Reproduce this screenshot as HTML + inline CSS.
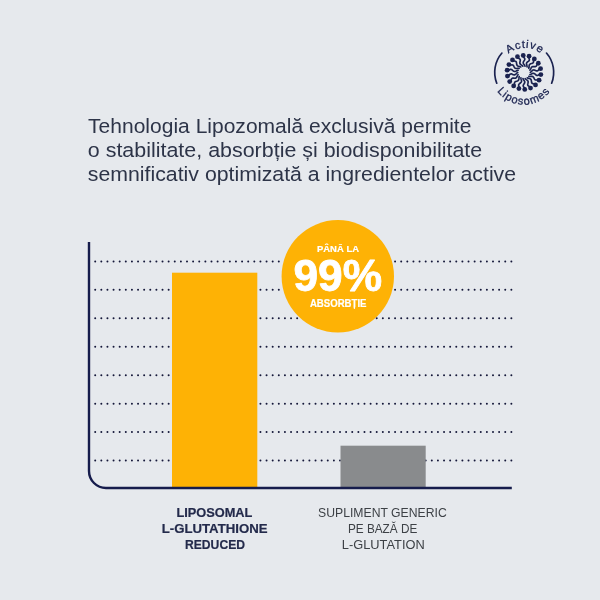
<!DOCTYPE html>
<html lang="ro">
<head>
<meta charset="utf-8">
<title>Tehnologia Lipozomală</title>
<style>
html,body{margin:0;padding:0;}
body{width:600px;height:600px;overflow:hidden;background:#e6e9ed;font-family:"Liberation Sans",Arial,sans-serif;}
svg{display:block;position:absolute;left:0;top:0;}
text{font-family:"Liberation Sans",Arial,sans-serif;}
.h{font-size:19.3px;fill:#2d3448;}
.lb{font-size:13.2px;font-weight:bold;fill:#232a4b;stroke:#232a4b;stroke-width:0.2px;}
.lg{font-size:13px;fill:#3d4146;}
.w{fill:#fff;font-weight:bold;stroke:#fff;stroke-width:0.2px;}
.logo{font-size:11px;fill:#1b2350;stroke:#1b2350;stroke-width:0.3px;}
</style>
</head>
<body>
<svg width="600" height="600" viewBox="0 0 600 600">
<rect width="600" height="600" fill="#e6e9ed"/>

<!-- logo -->
<defs>
<path id="arcTop" d="M499.40,73.40 A25.5,25.5 0 0 1 550.40,73.40"/>
<path id="arcBot" d="M490.70,71.60 A33.1,33.1 0 0 0 556.90,71.60"/>
</defs>
<g fill="none" stroke="#1b2350" stroke-width="1.7" stroke-linecap="round">
<path d="M501.94,53.05 A29.5,29.5 0 0 0 496.75,83.21"/>
<path d="M546.46,53.05 A29.5,29.5 0 0 1 551.65,83.21"/>
</g>
<g fill="#1b2350"><circle cx="523.23" cy="55.42" r="2.4"/><circle cx="529.08" cy="56.18" r="2.4"/><circle cx="534.33" cy="58.89" r="2.4"/><circle cx="538.32" cy="63.24" r="2.4"/><circle cx="540.59" cy="68.69" r="2.4"/><circle cx="540.86" cy="74.59" r="2.4"/><circle cx="539.09" cy="80.22" r="2.4"/><circle cx="535.51" cy="84.91" r="2.4"/><circle cx="530.53" cy="88.09" r="2.4"/><circle cx="524.77" cy="89.38" r="2.4"/><circle cx="518.92" cy="88.62" r="2.4"/><circle cx="513.67" cy="85.91" r="2.4"/><circle cx="509.68" cy="81.56" r="2.4"/><circle cx="507.41" cy="76.11" r="2.4"/><circle cx="507.14" cy="70.21" r="2.4"/><circle cx="508.91" cy="64.58" r="2.4"/><circle cx="512.49" cy="59.89" r="2.4"/><circle cx="517.47" cy="56.71" r="2.4"/></g>
<g fill="none" stroke="#1b2350" stroke-width="1.65" stroke-linecap="round" stroke-linejoin="round"><path d="M523.30,56.92 L524.01,57.56 L524.54,58.22 L524.80,58.89 L524.75,59.55 L524.45,60.19 L524.02,60.84 L523.59,61.51 L523.29,62.18 L523.22,62.85 L523.38,63.49 L523.75,64.13 L524.23,64.79 L524.69,65.48 L525.02,66.18"/><path d="M528.64,57.61 L529.09,58.46 L529.36,59.27 L529.37,59.98 L529.10,60.58 L528.60,61.08 L527.97,61.55 L527.34,62.02 L526.83,62.56 L526.53,63.15 L526.47,63.82 L526.59,64.55 L526.82,65.33 L527.01,66.13 L527.08,66.91"/><path d="M533.41,60.09 L533.55,61.04 L533.53,61.89 L533.29,62.57 L532.83,63.04 L532.19,63.34 L531.44,63.56 L530.69,63.79 L530.03,64.12 L529.54,64.58 L529.25,65.18 L529.12,65.91 L529.07,66.72 L528.98,67.54 L528.78,68.29"/><path d="M537.06,64.05 L536.86,64.99 L536.55,65.78 L536.09,66.34 L535.50,66.62 L534.80,66.69 L534.02,66.64 L533.23,66.60 L532.49,66.68 L531.88,66.94 L531.41,67.41 L531.04,68.05 L530.70,68.79 L530.34,69.53 L529.89,70.17"/><path d="M539.13,69.02 L538.62,69.83 L538.05,70.47 L537.44,70.84 L536.78,70.91 L536.10,70.73 L535.38,70.41 L534.66,70.10 L533.94,69.93 L533.27,69.97 L532.66,70.25 L532.10,70.72 L531.53,71.30 L530.94,71.87 L530.30,72.32"/><path d="M539.37,74.40 L538.62,74.99 L537.87,75.40 L537.16,75.53 L536.52,75.37 L535.94,74.96 L535.38,74.42 L534.80,73.89 L534.19,73.48 L533.54,73.29 L532.88,73.34 L532.19,73.59 L531.46,73.95 L530.70,74.28 L529.95,74.48"/><path d="M537.76,79.53 L536.85,79.83 L536.00,79.96 L535.30,79.84 L534.75,79.47 L534.34,78.89 L534.00,78.19 L533.64,77.49 L533.20,76.90 L532.67,76.50 L532.02,76.32 L531.28,76.32 L530.48,76.40 L529.65,76.46 L528.87,76.39"/><path d="M534.49,83.81 L533.53,83.78 L532.69,83.61 L532.07,83.26 L531.69,82.73 L531.50,82.04 L531.42,81.26 L531.32,80.48 L531.11,79.77 L530.74,79.21 L530.20,78.83 L529.50,78.57 L528.72,78.38 L527.92,78.15 L527.22,77.82"/><path d="M529.96,86.71 L529.07,86.35 L528.34,85.91 L527.87,85.36 L527.69,84.73 L527.75,84.02 L527.94,83.27 L528.11,82.49 L528.16,81.76 L528.00,81.11 L527.63,80.56 L527.06,80.08 L526.39,79.63 L525.72,79.14 L525.17,78.59"/><path d="M524.70,87.88 L523.99,87.24 L523.46,86.58 L523.20,85.91 L523.25,85.25 L523.55,84.61 L523.98,83.96 L524.41,83.29 L524.71,82.62 L524.78,81.95 L524.62,81.31 L524.25,80.67 L523.77,80.01 L523.31,79.32 L522.98,78.62"/><path d="M519.36,87.19 L518.91,86.34 L518.64,85.53 L518.63,84.82 L518.90,84.22 L519.40,83.72 L520.03,83.25 L520.66,82.78 L521.17,82.24 L521.47,81.65 L521.53,80.98 L521.41,80.25 L521.18,79.47 L520.99,78.67 L520.92,77.89"/><path d="M514.59,84.71 L514.45,83.76 L514.47,82.91 L514.71,82.23 L515.17,81.76 L515.81,81.46 L516.56,81.24 L517.31,81.01 L517.97,80.68 L518.46,80.22 L518.75,79.62 L518.88,78.89 L518.93,78.08 L519.02,77.26 L519.22,76.51"/><path d="M510.94,80.75 L511.14,79.81 L511.45,79.02 L511.91,78.46 L512.50,78.18 L513.20,78.11 L513.98,78.16 L514.77,78.20 L515.51,78.12 L516.12,77.86 L516.59,77.39 L516.96,76.75 L517.30,76.01 L517.66,75.27 L518.11,74.63"/><path d="M508.87,75.78 L509.38,74.97 L509.95,74.33 L510.56,73.96 L511.22,73.89 L511.90,74.07 L512.62,74.39 L513.34,74.70 L514.06,74.87 L514.73,74.83 L515.34,74.55 L515.90,74.08 L516.47,73.50 L517.06,72.93 L517.70,72.48"/><path d="M508.63,70.40 L509.38,69.81 L510.13,69.40 L510.84,69.27 L511.48,69.43 L512.06,69.84 L512.62,70.38 L513.20,70.91 L513.81,71.32 L514.46,71.51 L515.12,71.46 L515.81,71.21 L516.54,70.85 L517.30,70.52 L518.05,70.32"/><path d="M510.24,65.27 L511.15,64.97 L512.00,64.84 L512.70,64.96 L513.25,65.33 L513.66,65.91 L514.00,66.61 L514.36,67.31 L514.80,67.90 L515.33,68.30 L515.98,68.48 L516.72,68.48 L517.52,68.40 L518.35,68.34 L519.13,68.41"/><path d="M513.51,60.99 L514.47,61.02 L515.31,61.19 L515.93,61.54 L516.31,62.07 L516.50,62.76 L516.58,63.54 L516.68,64.32 L516.89,65.03 L517.26,65.59 L517.80,65.97 L518.50,66.23 L519.28,66.42 L520.08,66.65 L520.78,66.98"/><path d="M518.04,58.09 L518.93,58.45 L519.66,58.89 L520.13,59.44 L520.31,60.07 L520.25,60.78 L520.06,61.53 L519.89,62.31 L519.84,63.04 L520.00,63.69 L520.37,64.24 L520.94,64.72 L521.61,65.17 L522.28,65.66 L522.83,66.21"/></g>
<text class="logo" text-anchor="middle" letter-spacing="0.9" style="font-size:11px"><textPath href="#arcTop" startOffset="50%">Active</textPath></text>
<text class="logo" text-anchor="middle" letter-spacing="1.0" style="font-size:11px"><textPath href="#arcBot" startOffset="50%">Liposomes</textPath></text>

<!-- heading -->
<text class="h" x="88.1" y="132.7" textLength="383.3" lengthAdjust="spacingAndGlyphs">Tehnologia Lipozomală exclusivă permite</text>
<text class="h" x="87.8" y="156.7" textLength="394.4" lengthAdjust="spacingAndGlyphs">o stabilitate, absorbție și biodisponibilitate</text>
<text class="h" x="87.8" y="180.7" textLength="428.3" lengthAdjust="spacingAndGlyphs">semnificativ optimizată a ingredientelor active</text>

<!-- grid -->
<g stroke="#15183a" stroke-width="2" stroke-linecap="round" stroke-dasharray="0 6.12">
<line x1="95.2" y1="261.40" x2="512" y2="261.40"/>
<line x1="95.2" y1="289.85" x2="512" y2="289.85"/>
<line x1="95.2" y1="318.30" x2="512" y2="318.30"/>
<line x1="95.2" y1="346.75" x2="512" y2="346.75"/>
<line x1="95.2" y1="375.20" x2="512" y2="375.20"/>
<line x1="95.2" y1="403.65" x2="512" y2="403.65"/>
<line x1="95.2" y1="432.10" x2="512" y2="432.10"/>
<line x1="95.2" y1="460.55" x2="512" y2="460.55"/>
</g>

<!-- bars -->
<rect x="172" y="272.7" width="85.3" height="214.6" fill="#feb205"/>
<rect x="340.5" y="445.7" width="85.2" height="41.6" fill="#898b8d"/>

<!-- axis -->
<path d="M89,242 V471 A17,17 0 0 0 106,488 H511.8" fill="none" stroke="#161c4c" stroke-width="2.4"/>

<!-- badge -->
<circle cx="337.8" cy="276.3" r="56.2" fill="#feb205"/>
<text class="w" x="338" y="251.8" text-anchor="middle" style="font-size:9.3px" textLength="42" lengthAdjust="spacingAndGlyphs">PÂNĂ LA</text>
<text class="w" x="337.8" y="291.4" text-anchor="middle" style="font-size:43.6px;stroke:#fff;stroke-width:0.8px;stroke-linejoin:round" textLength="88.6" lengthAdjust="spacingAndGlyphs">99%</text>
<text class="w" x="338.2" y="306.5" text-anchor="middle" style="font-size:10px" textLength="56.6" lengthAdjust="spacingAndGlyphs">ABSORBȚIE</text>

<!-- labels -->
<text class="lb" x="214.4" y="517.1" text-anchor="middle" textLength="76" lengthAdjust="spacingAndGlyphs">LIPOSOMAL</text>
<text class="lb" x="214.6" y="533.1" text-anchor="middle" textLength="105.8" lengthAdjust="spacingAndGlyphs">L-GLUTATHIONE</text>
<text class="lb" x="215" y="549.1" text-anchor="middle" textLength="60" lengthAdjust="spacingAndGlyphs">REDUCED</text>

<text class="lg" x="382.4" y="517.1" text-anchor="middle" textLength="128.6" lengthAdjust="spacingAndGlyphs">SUPLIMENT GENERIC</text>
<text class="lg" x="382.6" y="533.1" text-anchor="middle" textLength="69.3" lengthAdjust="spacingAndGlyphs">PE BAZĂ DE</text>
<text class="lg" x="383.3" y="549.1" text-anchor="middle" textLength="82.9" lengthAdjust="spacingAndGlyphs">L-GLUTATION</text>
</svg>
</body>
</html>
